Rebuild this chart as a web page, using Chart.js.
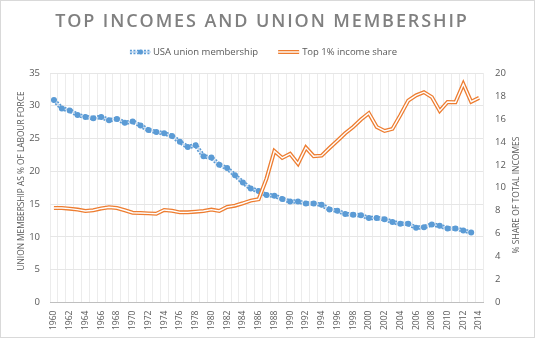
<!DOCTYPE html>
<html>
<head>
    <title>Top Incomes and Union Membership</title>
    <script src="https://cdn.jsdelivr.net/npm/chart.js"></script>
    <style>
        html, body {
            margin: 0;
            padding: 0;
            background: #ffffff;
        }
        #chartContainer {
            width: 535px;
            height: 338px;
        }
    </style>
</head>
<body>
    <div id="chartContainer">
        <canvas id="myChart"></canvas>
    </div>

    <script>
        // Years 1960 - 2014
        const years = [];
        for (let y = 1960; y <= 2014; y++) years.push(String(y));

        // Union membership, % of labour force (ends 2013)
        const unionMembership = [
            30.9, 29.6, 29.3, 28.6, 28.3, 28.1, 28.3, 27.8, 28.0, 27.4,
            27.6, 27.0, 26.3, 26.0, 25.8, 25.4, 24.5, 23.7, 24.0, 22.3,
            22.1, 21.0, 20.5, 19.4, 18.3, 17.4, 17.0, 16.4, 16.3, 15.8,
            15.4, 15.4, 15.1, 15.1, 14.9, 14.2, 14.0, 13.5, 13.4, 13.3,
            12.9, 12.9, 12.7, 12.3, 12.0, 12.0, 11.4, 11.5, 11.9, 11.7,
            11.3, 11.3, 11.0, 10.7, null
        ];

        // Top 1% share of total incomes, %
        const topIncomeShare = [
            8.24, 8.24, 8.18, 8.10, 7.98, 8.04, 8.20, 8.30, 8.24, 8.04,
            7.83, 7.80, 7.77, 7.74, 8.07, 8.00, 7.86, 7.86, 7.92, 7.98,
            8.10, 7.98, 8.33, 8.44, 8.65, 8.88, 9.00, 10.8, 13.2, 12.6,
            12.96, 12.1, 13.5, 12.75, 12.8, 13.46, 14.1, 14.75, 15.3, 15.95,
            16.5, 15.3, 14.95, 15.13, 16.33, 17.6, 18.05, 18.33, 17.9, 16.7,
            17.47, 17.45, 19.05, 17.5, 17.83
        ];

        const leftTicks = [0, 5, 10, 15, 20, 25, 30, 35];
        const rightTicks = [0, 2, 4, 6, 8, 10, 12, 14, 16, 18, 20];

        const seriesNames = ['USA union membership', 'Top 1% income share'];
        const chartTitle = 'TOP INCOMES AND UNION MEMBERSHIP';
        const leftTitle = 'UNION MEMBERSHIP AS % OF LABOUR FORCE';
        const rightTitle = '% SHARE OF TOTAL INCOMES';

        const BLUE = '#5B9BD5';
        const BLUE_LIGHT = '#c5daf0';
        const ORANGE = '#ED7D31';
        const GREY = '#595959';
        const FONT = "'Open Sans', sans-serif";

        // rotated text squeezed to a given length (axis titles are condensed)
        function drawVertical(ctx, text, x, y, length) {
            ctx.save();
            ctx.translate(x, y);
            ctx.rotate(-Math.PI / 2);
            const w = ctx.measureText(text).width;
            ctx.scale(Math.min(1, length / w), 1);
            ctx.fillText(text, 0, 0);
            ctx.restore();
        }

        // title, legend, axis titles and outer frame
        const decorPlugin = {
            id: 'decor',
            afterDraw(chart) {
                const ctx = chart.ctx;
                ctx.save();
                ctx.strokeStyle = '#d9d9d9';
                ctx.lineWidth = 1;
                ctx.strokeRect(0.5, 0.5, chart.width - 1, chart.height - 1);

                // title
                ctx.fillStyle = '#808080';
                ctx.font = '600 18px ' + FONT;
                ctx.letterSpacing = '1.9px';
                ctx.textAlign = 'center';
                ctx.textBaseline = 'middle';
                ctx.fillText(chartTitle, 262, 22);
                ctx.letterSpacing = '0px';

                // legend
                ctx.font = '9.5px ' + FONT;
                ctx.textAlign = 'left';
                ctx.fillStyle = GREY;
                const ly = 52;
                const w1 = ctx.measureText(seriesNames[0]).width;
                const w2 = ctx.measureText(seriesNames[1]).width;
                const sw = 21, gap = 2, itemGap = 20;
                const total = sw + gap + w1 + itemGap + sw + gap + w2;
                let lx = 263 - total / 2;

                // blue sample: dashed double line with a marker
                ctx.lineWidth = 4.5;
                ctx.strokeStyle = BLUE;
                ctx.setLineDash([2, 1.5]);
                ctx.beginPath(); ctx.moveTo(lx, ly); ctx.lineTo(lx + sw, ly); ctx.stroke();
                ctx.setLineDash([]);
                ctx.lineWidth = 1.5;
                ctx.strokeStyle = BLUE_LIGHT;
                ctx.beginPath(); ctx.moveTo(lx, ly); ctx.lineTo(lx + sw, ly); ctx.stroke();
                ctx.fillStyle = BLUE;
                ctx.beginPath(); ctx.arc(lx + sw / 2, ly, 2.5, 0, Math.PI * 2); ctx.fill();
                ctx.fillStyle = GREY;
                ctx.fillText(seriesNames[0], lx + sw + gap, ly);
                lx += sw + gap + w1 + itemGap;

                // orange sample: double line
                ctx.lineWidth = 4;
                ctx.strokeStyle = ORANGE;
                ctx.beginPath(); ctx.moveTo(lx, ly); ctx.lineTo(lx + sw, ly); ctx.stroke();
                ctx.lineWidth = 1.4;
                ctx.strokeStyle = '#ffffff';
                ctx.beginPath(); ctx.moveTo(lx, ly); ctx.lineTo(lx + sw, ly); ctx.stroke();
                ctx.fillText(seriesNames[1], lx + sw + gap + 1, ly);

                // axis titles, both reading bottom to top
                ctx.font = '9.5px ' + FONT;
                ctx.textAlign = 'center';
                drawVertical(ctx, leftTitle, 21.5, 181, 179);
                drawVertical(ctx, rightTitle, 516.5, 195, 117);
                ctx.restore();
            }
        };

        const config = {
            type: 'line',
            data: {
                labels: years,
                datasets: [
                    {
                        // white core of the orange double line
                        data: topIncomeShare,
                        yAxisID: 'y1',
                        borderColor: '#ffffff',
                        borderWidth: 1.4,
                        pointRadius: 0,
                        order: 0
                    },
                    {
                        label: seriesNames[1],
                        data: topIncomeShare,
                        yAxisID: 'y1',
                        borderColor: ORANGE,
                        borderWidth: 4,
                        pointRadius: 0,
                        order: 1
                    },
                    {
                        // light core of the blue line, with markers
                        data: unionMembership,
                        yAxisID: 'y',
                        borderColor: BLUE_LIGHT,
                        borderWidth: 1.5,
                        pointRadius: 3,
                        pointBackgroundColor: BLUE,
                        pointBorderColor: BLUE,
                        pointBorderWidth: 0,
                        order: 2
                    },
                    {
                        label: seriesNames[0],
                        data: unionMembership,
                        yAxisID: 'y',
                        borderColor: BLUE,
                        borderWidth: 4.5,
                        borderDash: [2, 1.5],
                        pointRadius: 0,
                        order: 3
                    }
                ]
            },
            options: {
                responsive: true,
                maintainAspectRatio: false,
                animation: false,
                layout: {
                    padding: { top: 73, left: 0, right: 0, bottom: 0 }
                },
                plugins: {
                    title: { display: false },
                    tooltip: { enabled: false },
                    legend: { display: false }
                },
                scales: {
                    x: {
                        type: 'category',
                        offset: true,
                        grid: {
                            offset: true,
                            color: '#ececec',
                            drawTicks: false
                        },
                        border: { color: '#bfbfbf' },
                        ticks: {
                            autoSkip: false,
                            minRotation: 90,
                            maxRotation: 90,
                            padding: 8,
                            color: GREY,
                            font: { family: FONT, size: 8.5 },
                            callback: function (value, index) {
                                return index % 2 === 0 ? this.getLabelForValue(value) : '';
                            }
                        }
                    },
                    y: {
                        position: 'left',
                        min: 0,
                        max: 35,
                        afterBuildTicks: axis => { axis.ticks = leftTicks.map(v => ({ value: v })); },
                        afterFit: axis => { axis.width = 50; },
                        grid: { color: '#e6e6e6', drawTicks: false },
                        border: { display: false },
                        ticks: {
                            padding: 10,
                            color: GREY,
                            font: { family: FONT, size: 9.5 }
                        }
                    },
                    y1: {
                        position: 'right',
                        min: 0,
                        max: 20,
                        afterBuildTicks: axis => { axis.ticks = rightTicks.map(v => ({ value: v })); },
                        afterFit: axis => { axis.width = 52; },
                        grid: { display: false, drawTicks: false },
                        border: { display: false },
                        ticks: {
                            padding: 12,
                            color: GREY,
                            font: { family: FONT, size: 9.5 }
                        }
                    }
                }
            },
            plugins: [decorPlugin]
        };

        const ctx = document.getElementById('myChart').getContext('2d');
        const myChart = new Chart(ctx, config);
    </script>
</body>
</html>
